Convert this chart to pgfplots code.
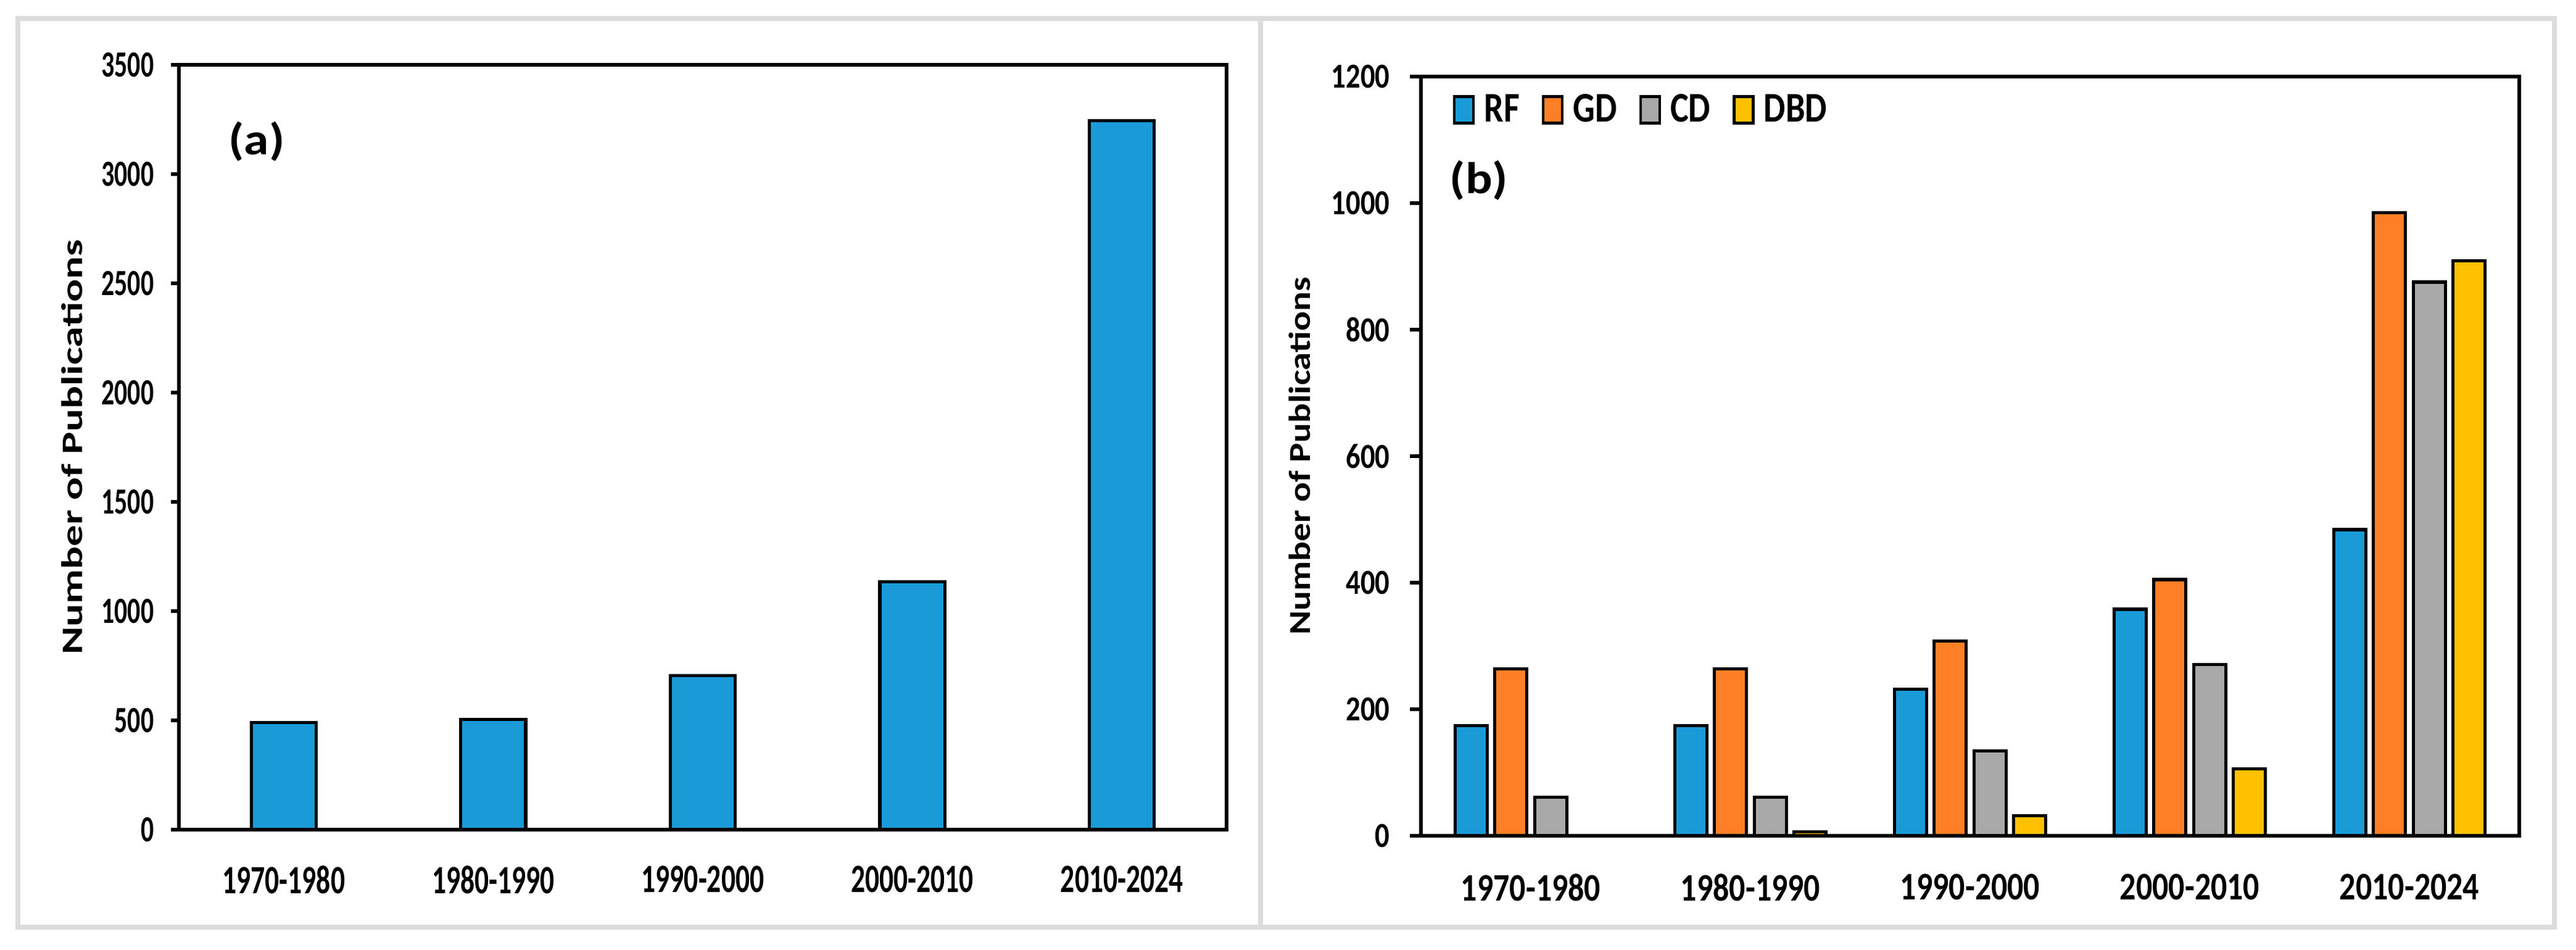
\documentclass[border=0pt]{standalone}
\usepackage{fontspec}
\setmainfont{Carlito}
\newfontfamily\fontA[FakeStretch=0.70]{Carlito}
\newfontfamily\fontB[FakeStretch=0.82]{Carlito}
\newfontfamily\fontL[FakeStretch=1.13]{Carlito}
\usepackage{pgfplots}
\pgfplotsset{compat=1.18}
\usepackage{graphicx}
\definecolor{cRF}{HTML}{1A9BD7}
\definecolor{cGD}{HTML}{FF7F27}
\definecolor{cCD}{HTML}{A9A9A9}
\definecolor{cDBD}{HTML}{FFC000}
\definecolor{framegray}{RGB}{220,220,220}
\newcommand\fa[1]{\fontA\bfseries\fontsize{#1}{#1}\selectfont}
\newcommand\fb[1]{\fontB\bfseries\fontsize{#1}{#1}\selectfont}
\newcommand\fl[1]{\fontL\bfseries\fontsize{#1}{#1}\selectfont}
\newcommand\fn[1]{\bfseries\fontsize{#1}{#1}\selectfont}

\pgfplotstableread{
x RF GD CD DBD
0 174 264 61 0
1 174 264 61 6
2 232 308 134 32
3 358 405 271 106
4 484 985 875 909
}\groupdata

\pgfplotstableread{
x total
0 490
1 505
2 705
3 1135
4 3245
}\totaldata

\begin{document}
\begin{tikzpicture}
\draw[framegray, line width=0.8mm] (2.9mm,3.7mm) rectangle (204.3mm,150.9mm);
\draw[framegray, line width=0.8mm] (204.3mm,3.7mm) rectangle (414.0mm,150.9mm);

% Panel (a)
\begin{axis}[
  at={(29.0mm,19.5mm)}, anchor=south west,
  scale only axis, width=169.8mm, height=123.9mm,
  xmin=-0.5, xmax=4.5, ymin=0, ymax=3500,
  ybar, bar width=0.31,
  xtick={0,1,2,3,4},
  xticklabels={1970-1980,1980-1990,1990-2000,2000-2010,2010-2024},
  ytick={0,500,1000,1500,2000,2500,3000,3500},
  yticklabels={0,500,1000,1500,2000,2500,3000,3500},
  xtick style={draw=none}, ytick pos=left, tick align=outside,
  major tick length=1.3mm,
  axis line style={line width=1.5pt},
  ytick style={line width=1.5pt, black},
  xticklabel style={font=\fa{18.5}, anchor=north, inner sep=0pt, yshift=-4.5mm},
  yticklabel style={font=\fa{17}, anchor=east, inner sep=0pt, xshift=-2.7mm},
  ylabel={\scalebox{1}[0.70]{Number of Publications}},
  ylabel style={font=\fn{19.6}, at={(rel axis cs:-0.1019,0.5)}, anchor=center},
  axis on top,
]
\addplot[fill=cRF, draw=black, line width=1.5pt] table[x=x, y=total] {\totaldata};
\node[font=\fl{20.5}] at (rel axis cs:0.0742,0.8999) {(a)};
\end{axis}

% Panel (b)
\begin{axis}[
  at={(230.3mm,18.5mm)}, anchor=south west,
  scale only axis, width=178.0mm, height=123.0mm,
  xmin=-0.5, xmax=4.5, ymin=0, ymax=1200,
  ybar, bar width=0.146,
  xtick={0,1,2,3,4},
  xticklabels={1970-1980,1980-1990,1990-2000,2000-2010,2010-2024},
  ytick={0,200,400,600,800,1000,1200},
  yticklabels={0,200,400,600,800,1000,1200},
  xtick style={draw=none}, ytick pos=left, tick align=outside,
  major tick length=1.8mm,
  axis line style={line width=1.5pt},
  ytick style={line width=1.5pt, black},
  xticklabel style={font=\fb{18}, anchor=north, inner sep=0pt, yshift=-4.3mm},
  yticklabel style={font=\fb{16.2}, anchor=east, inner sep=0pt, xshift=-3.2mm},
  ylabel={\scalebox{1}[0.83]{Number of Publications}},
  ylabel style={font=\fn{16.9}, at={(rel axis cs:-0.1107,0.5)}, anchor=center},
  legend columns=4,
  legend style={at={(rel axis cs:0.0287,0.956)}, anchor=west, draw=none, fill=none,
    inner sep=0pt, nodes={inner sep=0pt, font=\fb{19.5}}, font=\fb{19.5},
    /tikz/every odd column/.style={column sep=1.5mm},
    /tikz/every even column/.style={column sep=3.6mm}},
  legend image code/.code={\draw[#1, line width=1.3pt] (0mm,-2.15mm) rectangle (3.1mm,2.15mm);},
  axis on top,
]
\addplot[fill=cRF, draw=black, line width=1.5pt, bar shift=-0.2718] table[x=x, y=RF] {\groupdata};
\addplot[fill=cGD, draw=black, line width=1.5pt, bar shift=-0.0906] table[x=x, y=GD] {\groupdata};
\addplot[fill=cCD, draw=black, line width=1.5pt, bar shift=0.0906] table[x=x, y=CD] {\groupdata};
\addplot[fill=cDBD, draw=black, line width=1.5pt, bar shift=0.2718] table[x=x, y=DBD] {\groupdata};
\legend{RF,GD,CD,DBD}
\node[font=\fl{20.5}] at (rel axis cs:0.0528,0.8634) {(b)};
\end{axis}

\pgfresetboundingbox
\path[use as bounding box] (0,0) rectangle (417.5mm,153.9mm);
\end{tikzpicture}
\end{document}
